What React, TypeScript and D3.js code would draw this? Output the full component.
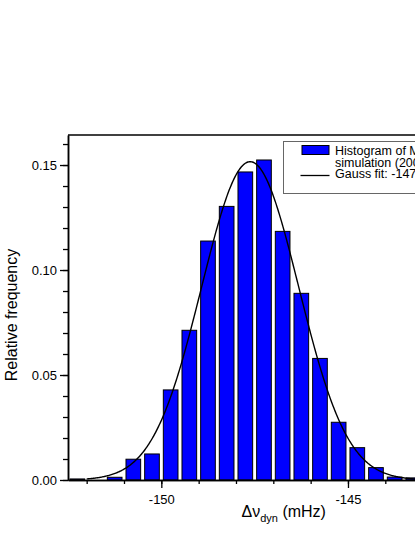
import React, { useEffect, useRef } from "react";
import * as d3 from "d3";

// histogram bins (centre of 0.5 mHz bin) and relative frequency
const binCenters = [
  -152.25, -151.75, -151.25, -150.75, -150.25, -149.75, -149.25, -148.75, -148.25, -147.75,
  -147.25, -146.75, -146.25, -145.75, -145.25, -144.75, -144.25, -143.75, -143.25,
];
const frequencies = [
  0.0005, 0, 0.0013, 0.0099, 0.0124, 0.0429, 0.0713, 0.1138, 0.1303, 0.1467,
  0.1524, 0.1184, 0.0889, 0.0579, 0.0275, 0.0154, 0.0059, 0.0014, 0.001,
];
const binWidth = 0.5;

// Gauss fit parameters
const gaussCenter = -147.62;
const gaussSigma = 1.3;
const gaussPeak = 0.1516;
const gaussFrom = -152.0;

const xMajorTicks = [-150, -145];
const yMajorTicks = [0, 0.05, 0.1, 0.15];

const legendLines = ["Histogram of MC", "simulation (20000 runs)", "Gauss fit: -147.6 mHz"];

const FONT = "'Liberation Sans', Arial, sans-serif";

export default function App() {
  const ref = useRef<SVGSVGElement | null>(null);

  useEffect(() => {
    const svg = d3.select(ref.current);
    svg.selectAll("*").remove();

    const left = 68, top = 135, bottom = 480;
    const x = d3.scaleLinear().domain([-152.5, -142.5]).range([left, left + 373.3]);
    const y = d3.scaleLinear().domain([0, 0.1643]).range([bottom, top]);

    // bars
    const data = binCenters.map((c, i) => ({ c, v: frequencies[i] }));
    svg
      .append("g")
      .selectAll("rect")
      .data(data.filter((d) => d.v > 0))
      .join("rect")
      .attr("x", (d) => x(d.c - binWidth / 2) + 2)
      .attr("width", (d) => x(d.c + binWidth / 2) - x(d.c - binWidth / 2) - 4)
      .attr("y", (d) => y(d.v))
      .attr("height", (d) => bottom - y(d.v))
      .attr("fill", "#0000ff")
      .attr("stroke", "#000")
      .attr("stroke-width", 1);

    // gauss curve
    const xs = d3.range(gaussFrom, -142.5, 0.02);
    const line = d3
      .line<number>()
      .x((d) => x(d))
      .y((d) => y(gaussPeak * Math.exp(-((d - gaussCenter) ** 2) / (2 * gaussSigma ** 2))));
    svg
      .append("path")
      .datum(xs)
      .attr("d", line)
      .attr("fill", "none")
      .attr("stroke", "#000")
      .attr("stroke-width", 1.4);

    // top frame
    svg
      .append("line")
      .attr("x1", left)
      .attr("x2", 415)
      .attr("y1", top)
      .attr("y2", top)
      .attr("stroke", "#000")
      .attr("stroke-width", 1.5);

    // x axis
    const gx = svg.append("g").attr("transform", `translate(0,${bottom})`);
    gx.call(
      d3
        .axisBottom(x)
        .tickValues(d3.range(-152, -142, 1))
        .tickSize(4)
        .tickSizeOuter(0)
        .tickFormat(() => "")
    );
    gx.call((g) =>
      g
        .append("g")
        .call(
          d3
            .axisBottom(x)
            .tickValues(xMajorTicks)
            .tickSize(8)
            .tickSizeOuter(0)
            .tickFormat((d) => String(d))
        )
    );
    gx.selectAll("path").attr("stroke-width", 1.5);
    gx.selectAll("line").attr("stroke-width", 1.3);
    gx.selectAll("text")
      .attr("y", 23.5)
      .attr("dy", null)
      .style("font-family", FONT)
      .style("font-size", "13px")
      .attr("fill", "#000");

    // y axis
    const gy = svg.append("g").attr("transform", `translate(${left},0)`);
    gy.call(
      d3
        .axisLeft(y)
        .tickValues(d3.range(0, 0.165, 0.01))
        .tickSize(5)
        .tickSizeOuter(0)
        .tickFormat(() => "")
    );
    gy.call((g) =>
      g
        .append("g")
        .call(
          d3
            .axisLeft(y)
            .tickValues(yMajorTicks)
            .tickSize(8)
            .tickSizeOuter(0)
            .tickFormat(d3.format(".2f"))
        )
    );
    gy.selectAll("path").attr("stroke-width", 1.5);
    gy.selectAll("line").attr("stroke-width", 1.3);
    gy.selectAll("text")
      .attr("x", -11)
      .style("font-family", FONT)
      .style("font-size", "13px")
      .attr("fill", "#000");

    // axis titles
    svg
      .append("text")
      .attr("transform", "translate(17,315) rotate(-90)")
      .attr("text-anchor", "middle")
      .style("font-family", FONT)
      .style("font-size", "16px")
      .text("Relative frequency");

    const xt = svg
      .append("text")
      .attr("x", 241.5)
      .attr("y", 516.5)
      .style("font-family", FONT)
      .style("font-size", "16px");
    xt.append("tspan").text("\u0394\u03bd");
    xt.append("tspan").attr("dy", 5).style("font-size", "11px").text("dyn");
    xt.append("tspan").attr("dy", -5).text(" (mHz)");

    // legend
    const lg = svg.append("g");
    lg.append("rect")
      .attr("x", 283.5)
      .attr("y", 141.5)
      .attr("width", 200)
      .attr("height", 52)
      .attr("fill", "#fff")
      .attr("stroke", "#666")
      .attr("stroke-width", 1);
    lg.append("rect")
      .attr("x", 302)
      .attr("y", 145.5)
      .attr("width", 27)
      .attr("height", 9)
      .attr("fill", "#0000ff")
      .attr("stroke", "#000");
    lg.append("line")
      .attr("x1", 300.5)
      .attr("x2", 329.5)
      .attr("y1", 175.5)
      .attr("y2", 175.5)
      .attr("stroke", "#000")
      .attr("stroke-width", 1.3);
    lg.selectAll("text")
      .data(legendLines)
      .join("text")
      .attr("x", 335)
      .attr("y", (d, i) => 155 + i * 11.5)
      .style("font-family", FONT)
      .style("font-size", "12.5px")
      .text((d) => d);
  }, []);

  return (
    <svg
      ref={ref}
      width={415}
      height={537}
      style={{ position: "absolute", left: 0, top: 0, background: "#fff" }}
    />
  );
}
